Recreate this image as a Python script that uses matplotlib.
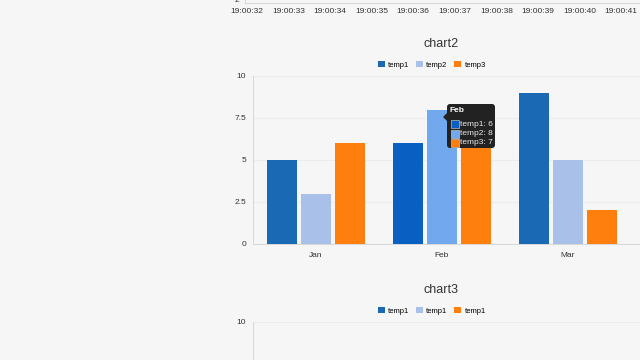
import matplotlib
matplotlib.use("Agg")
import matplotlib.pyplot as plt
from matplotlib.patches import Patch, Rectangle, FancyBboxPatch, Polygon

plt.rcParams['font.family'] = ['Liberation Sans', 'DejaVu Sans']

# data
months = ['Jan', 'Feb', 'Mar']
series = ['temp1', 'temp2', 'temp3']
temp1 = [5, 6, 9]
temp2 = [3, 8, 5]
temp3 = [6, 7, 2]
chart3_series = ['temp1', 'temp1', 'temp1']
top_seconds = [32, 33, 34, 35, 36, 37, 38, 39, 40, 41]
top_labels = ['19:00:%d' % s for s in top_seconds]

colors = ['#1a69b5', '#a9c1e8', '#ff7f0e']
hover_colors = ['#0a5fc2', '#72a9ee', '#ff7f0e']  # Feb group is hovered
bg = '#f6f6f6'
grid_c = '#ececec'
axis_c = '#d9d9d9'
text_c = '#333333'

W, H = 640, 360
fig = plt.figure(figsize=(6.4, 3.6), dpi=100, facecolor=bg)


def box(l, t, r, b):
    # pixel box -> figure fraction rect
    return [l / W, 1 - b / H, (r - l) / W, (b - t) / H]


def style_axis(ax):
    ax.set_facecolor(bg)
    for s in ['top', 'right']:
        ax.spines[s].set_visible(False)
    ax.spines['left'].set_color(axis_c)
    ax.spines['bottom'].set_color(axis_c)
    ax.tick_params(length=0, labelsize=6, colors=text_c)


# ---- top chart (only its bottom is visible) ----
ax0 = fig.add_axes(box(245, -150, 660, 3))
style_axis(ax0)
px_per_s = 41.56
ax0.set_xlim(top_seconds[0] - 2 / px_per_s, top_seconds[0] + (415 - 2) / px_per_s)
ax0.set_ylim(1.8, 10)
ax0.set_yticks([2])
ax0.set_xticks(top_seconds)
ax0.set_xticklabels(top_labels)
ax0.tick_params(axis='x', pad=3.5)
ax0.tick_params(axis='y', pad=4)

# ---- chart2 ----
ax = fig.add_axes(box(253, 76, 640, 244))
style_axis(ax)
x = range(len(months))
step = 0.266
width = 0.238
for i, (name, vals) in enumerate(zip(series, [temp1, temp2, temp3])):
    cols = [hover_colors[i] if m == 'Feb' else colors[i] for m in months]
    ax.bar([xi + (i - 1) * step for xi in x], vals, width=width, color=cols,
           zorder=3)
ax.set_xlim(-0.5, -0.5 + 387 / 126)
ax.set_ylim(0, 10)
ax.set_yticks([0, 2.5, 5, 7.5, 10])
ax.set_yticklabels(['0', '2.5', '5', '7.5', '10'])
ax.set_xticks(list(x))
ax.set_xticklabels(months)
ax.yaxis.grid(True, color=grid_c, linewidth=0.8, zorder=0)
ax.tick_params(axis='y', pad=5)
ax.tick_params(axis='x', pad=5.5)

fig.text(441 / W, 1 - 44 / H, 'chart2', ha='center', va='center',
         fontsize=9, color=text_c)
handles = [Patch(facecolor=c, edgecolor='none') for c in colors]
leg_kw = dict(loc='center', ncol=3, frameon=False, fontsize=5.5,
              handlelength=0.9, handleheight=0.9, handletextpad=0.4,
              columnspacing=0.9)
fig.legend(handles, series, bbox_to_anchor=(432 / W, 1 - 65 / H), **leg_kw)

# tooltip for the hovered Feb group
def inch(xp, yp):
    return (xp / 100, (H - yp) / 100)

tip = FancyBboxPatch(inch(447, 148), 48 / 100, 44 / 100,
                     boxstyle='round,pad=0,rounding_size=0.03',
                     transform=fig.dpi_scale_trans, facecolor='#222222',
                     edgecolor='none', zorder=10)
fig.add_artist(tip)
fig.add_artist(Polygon([inch(447, 113), inch(443, 117), inch(447, 121)],
                       closed=True, transform=fig.dpi_scale_trans,
                       facecolor='#222222', edgecolor='none', zorder=10))
fi = months.index('Feb')
fig.text(450 / W, 1 - 111 / H, months[fi], ha='left', va='center',
         fontsize=6, fontweight='bold', color='white', zorder=11)
for k, (name, vals) in enumerate(zip(series, [temp1, temp2, temp3])):
    yp = 124 + k * 9.5
    fig.add_artist(Rectangle(inch(451, yp + 4), 0.08, 0.08,
                             transform=fig.dpi_scale_trans,
                             facecolor=hover_colors[k], edgecolor='#dddddd',
                             linewidth=0.4, zorder=11))
    fig.text(460 / W, 1 - yp / H, '%s: %d' % (name, vals[fi]), ha='left',
             va='center', fontsize=6, color='#e8e8e8', zorder=11)

# ---- chart3 (top only visible) ----
ax3 = fig.add_axes(box(253, 322, 640, 490))
style_axis(ax3)
ax3.set_ylim(0, 10)
ax3.set_yticks([10])
ax3.set_yticklabels(['10'])
ax3.set_xticks([])
ax3.yaxis.grid(True, color=grid_c, linewidth=0.8, zorder=0)
ax3.tick_params(axis='y', pad=5)

fig.text(441 / W, 1 - 290 / H, 'chart3', ha='center', va='center',
         fontsize=9, color=text_c)
fig.legend(handles, chart3_series, bbox_to_anchor=(432 / W, 1 - 311 / H),
           **leg_kw)

fig.savefig('out.png', dpi=100, facecolor=bg)
